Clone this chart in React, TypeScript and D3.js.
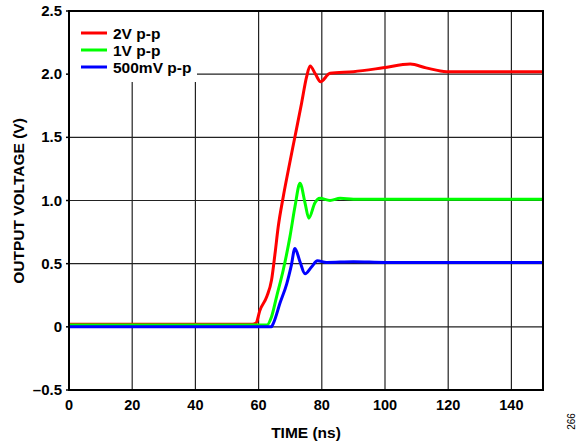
import React from "react";
import * as d3 from "d3";

const xTicks = [0, 20, 40, 60, 80, 100, 120, 140];
const yTicks = [-0.5, 0, 0.5, 1.0, 1.5, 2.0, 2.5];
const yTickLabels = ["–0.5", "0", "0.5", "1.0", "1.5", "2.0", "2.5"];

const redT = [0, 10, 20, 30, 40, 50, 58, 59.2, 60.4, 62.6, 64.1, 65.2, 66.2, 67.8, 69.4, 71.5, 73.6, 75.2, 76.3, 78.0, 79.6, 82.6, 90, 99.4, 108, 113, 119.5, 130, 140, 150];
const redV = [0.02, 0.02, 0.02, 0.02, 0.02, 0.02, 0.02, 0.03, 0.13, 0.24, 0.37, 0.58, 0.79, 1.03, 1.24, 1.505, 1.77, 1.98, 2.065, 2.0, 1.94, 2.007, 2.02, 2.05, 2.08, 2.05, 2.02, 2.02, 2.02, 2.02];

const greenT = [0, 20, 40, 58, 62.6, 64.1, 65.7, 67.8, 69.9, 71.5, 73.1, 74.7, 75.9, 77.8, 79.4, 82.6, 85.8, 90, 100, 120, 150];
const greenV = [0.015, 0.015, 0.015, 0.015, 0.014, 0.08, 0.24, 0.45, 0.71, 0.95, 1.136, 0.98, 0.86, 0.98, 1.017, 1.0, 1.017, 1.01, 1.01, 1.01, 1.01];

const blueT = [0, 20, 40, 60, 64, 64.7, 66.8, 68.9, 70.3, 71.5, 73.1, 74.7, 76.8, 78.6, 81.5, 90, 100, 120, 150];
const blueV = [0.0, 0.0, 0.0, 0.0, 0.0, 0.03, 0.19, 0.34, 0.48, 0.62, 0.515, 0.42, 0.476, 0.523, 0.51, 0.515, 0.51, 0.51, 0.51];

const seriesNames = ["2V p-p", "1V p-p", "500mV p-p"];
const seriesColors = ["#ff0000", "#00ff00", "#0000ff"];

const L = 69, R = 543, T = 11, B = 390;
const font = "Liberation Sans, Arial, sans-serif";

export default function App() {
  const x = d3.scaleLinear().domain([0, 150]).range([L, R]);
  const y = d3.scaleLinear().domain([-0.5, 2.5]).range([B, T]);
  const line = d3
    .line<[number, number]>()
    .x((d) => x(d[0]))
    .y((d) => y(d[1]))
    .curve(d3.curveMonotoneX);
  const series = [
    redT.map((t, i) => [t, redV[i]] as [number, number]),
    greenT.map((t, i) => [t, greenV[i]] as [number, number]),
    blueT.map((t, i) => [t, blueV[i]] as [number, number]),
  ];
  return (
    <svg width={576} height={445} style={{ position: "absolute", left: 0, top: 0 }}>
      <defs>
        <clipPath id="plot">
          <rect x={L} y={T} width={R - L} height={B - T} />
        </clipPath>
      </defs>
      <rect x={0} y={0} width={576} height={445} fill="#fff" />
      {xTicks.slice(1).map((t) => (
        <line key={"vx" + t} x1={x(t)} x2={x(t)} y1={T} y2={B} stroke="#222" strokeWidth={1.2} />
      ))}
      {yTicks.slice(1, -1).map((t) => (
        <line key={"hy" + t} x1={L} x2={R} y1={y(t)} y2={y(t)} stroke="#222" strokeWidth={1.2} />
      ))}
      {/* legend background */}
      <rect x={L + 1} y={T + 1} width={127} height={70} fill="#fff" />
      {seriesNames.map((n, i) => (
        <g key={n}>
          <line x1={81} x2={107} y1={33 + i * 17} y2={33 + i * 17} stroke={seriesColors[i]} strokeWidth={3} />
          <text x={113} y={38.5 + i * 17} fontFamily={font} fontWeight="bold" fontSize={15.5} fill="#000">
            {n}
          </text>
        </g>
      ))}
      <g clipPath="url(#plot)">
        {series.map((s, i) => (
          <path key={i} d={line(s) || ""} fill="none" stroke={seriesColors[i]} strokeWidth={3} strokeLinejoin="round" />
        ))}
      </g>
      <rect x={L} y={T} width={R - L} height={B - T} fill="none" stroke="#000" strokeWidth={2} />
      {yTicks.map((t, i) => (
        <g key={"yt" + t}>
          <line x1={L - 3} x2={L} y1={y(t)} y2={y(t)} stroke="#000" strokeWidth={1.5} />
          <text x={62} y={y(t) + 5} textAnchor="end" fontFamily={font} fontWeight="bold" fontSize={15} fill="#000">
            {yTickLabels[i]}
          </text>
        </g>
      ))}
      {xTicks.map((t) => (
        <text key={"xt" + t} x={x(t)} y={410} textAnchor="middle" fontFamily={font} fontWeight="bold" fontSize={14.5} fill="#000">
          {t}
        </text>
      ))}
      <text x={(L + R) / 2} y={438} textAnchor="middle" fontFamily={font} fontWeight="bold" fontSize={15.5} fill="#000">
        TIME (ns)
      </text>
      <text
        transform={`translate(24,201) rotate(-90)`}
        textAnchor="middle"
        fontFamily={font}
        fontWeight="bold"
        fontSize={15.5}
        fill="#000"
      >
        OUTPUT VOLTAGE (V)
      </text>
      <text transform="translate(575,421.5) rotate(-90)" textAnchor="middle" fontFamily={font} fontSize={10} fill="#000">
        266
      </text>
    </svg>
  );
}
